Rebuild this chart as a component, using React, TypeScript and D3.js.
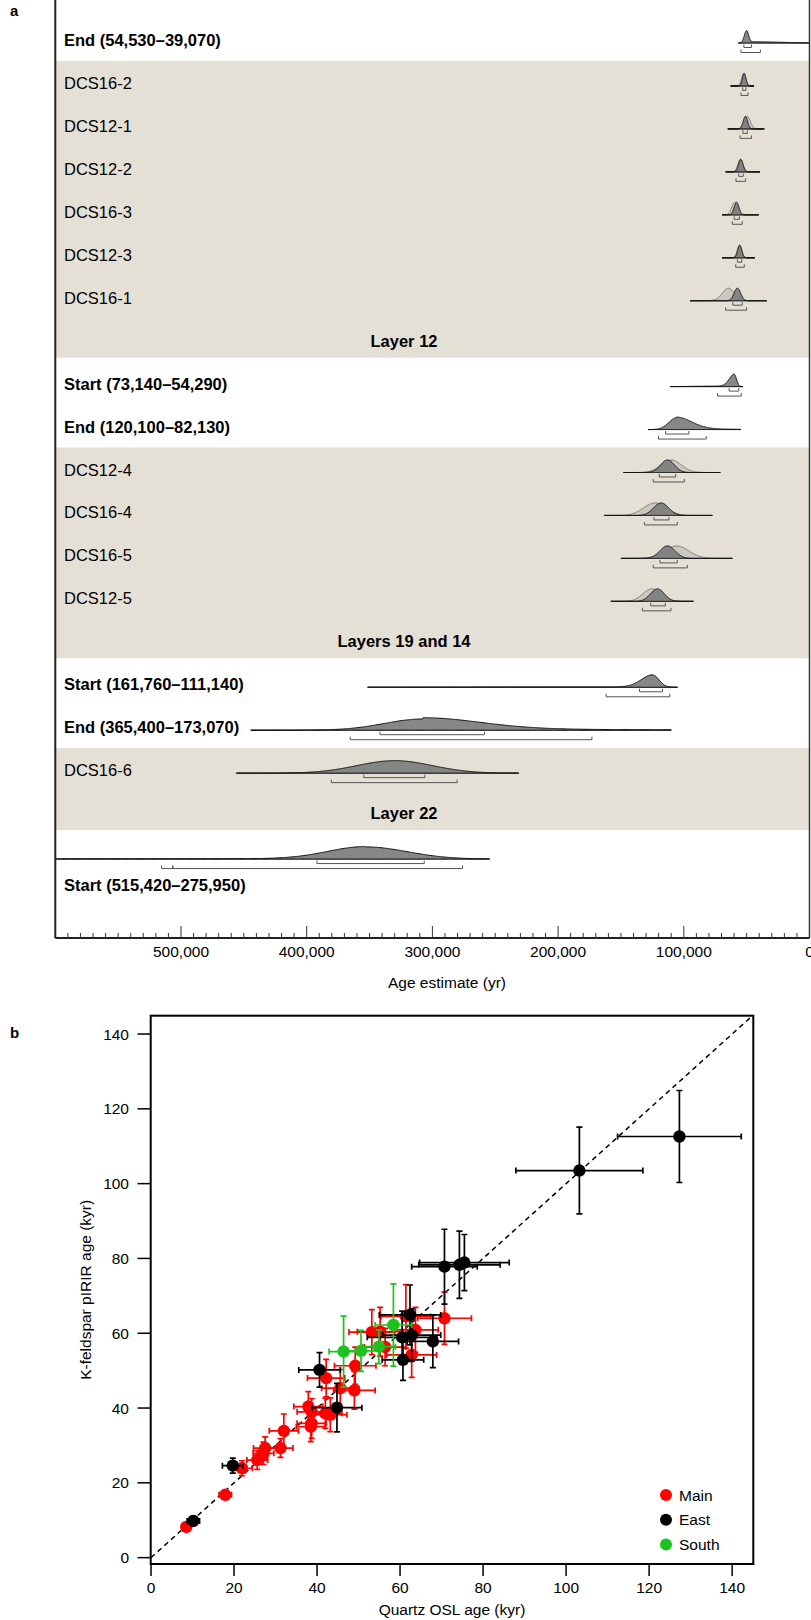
import React from 'react';
import * as d3 from 'd3';

const FONT = '"Liberation Sans", Arial, Helvetica, sans-serif';

// ---- panel a: Bayesian age model ----
const rowLabels = [
  'End (54,530–39,070)', 'DCS16-2', 'DCS12-1', 'DCS12-2', 'DCS16-3', 'DCS12-3', 'DCS16-1', 'Layer 12',
  'Start (73,140–54,290)', 'End (120,100–82,130)', 'DCS12-4', 'DCS16-4', 'DCS16-5', 'DCS12-5', 'Layers 19 and 14',
  'Start (161,760–111,140)', 'End (365,400–173,070)', 'DCS16-6', 'Layer 22', 'Start (515,420–275,950)',
];
const rowKinds = [
  'boundary', 'sample', 'sample', 'sample', 'sample', 'sample', 'sample', 'layer',
  'boundary', 'boundary', 'sample', 'sample', 'sample', 'sample', 'layer',
  'boundary', 'boundary', 'sample', 'layer', 'boundary',
];
// shaded groups of rows [first, last]
const bandRows = [[1, 7], [10, 14], [17, 18]];

// [mode, sdOlder, sdYounger, tailAmp, tailSdOlder, tailSdYounger] in years
const posterior = [
  [50000, 1800, 1500, 0.12, 2000, 25000],
  [52000, 1400, 1400, 0, 0, 0],
  [51000, 1800, 1700, 0, 0, 0],
  [54700, 1800, 1800, 0, 0, 0],
  [58000, 1900, 1900, 0, 0, 0],
  [55500, 1600, 1600, 0, 0, 0],
  [57400, 2600, 2600, 0, 0, 0],
  null,
  [59800, 4000, 1800, 0.05, 25000, 0],
  [106000, 6000, 12000, 0.08, 0, 30000],
  [113000, 5500, 5500, 0, 0, 0],
  [118000, 6000, 6000, 0, 0, 0],
  [113000, 6000, 6000, 0, 0, 0],
  [121000, 5500, 5500, 0, 0, 0],
  null,
  [124700, 9000, 5000, 0.03, 150000, 0],
  [308000, 30000, 45000, 0.12, 0, 120000],
  [330000, 30000, 30000, 0, 0, 0],
  null,
  [353000, 30000, 33000, 0.03, 200000, 0],
];
const prior = [
  null,
  [52300, 1700, 1700, 0, 0, 0],
  [49500, 2400, 2400, 0, 0, 0],
  [54900, 2000, 2000, 0, 0, 0],
  [59500, 2300, 2300, 0, 0, 0],
  [55700, 1800, 1800, 0, 0, 0],
  [64500, 4800, 4800, 0, 0, 0],
  null, null, null,
  [110000, 8000, 8000, 0, 0, 0],
  [123000, 9000, 9000, 0, 0, 0],
  [105500, 9500, 9500, 0, 0, 0],
  [125500, 7000, 7000, 0, 0, 0],
  null, null, null, null, null, null,
];
// extent of the baseline [older, younger]
const lineExtent = [
  [56500, 0], [62700, 44200], [65000, 36000], [66700, 39400], [69400, 40400], [69600, 43400], [95000, 34000], null,
  [111000, 53000], [128500, 54700], [148000, 71000], [163500, 77300], [150000, 61400], [158000, 92400], null,
  [351500, 105000], [444500, 110000], [456000, 231300], null, [600000, 254500],
];
const range68 = [
  [52200, 46200], [53100, 50600], [53000, 49400], [56300, 52700], [60000, 55800], [57400, 53900], [61000, 53500], null,
  [64000, 56200], [114500, 96000], [119500, 106500], [123700, 111800], [119000, 105200], [126300, 114700], null,
  [135200, 116900], [341700, 258500], [354600, 305900], null, [391900, 306500],
];
const range95 = [
  [[54530, 39070]], [[54500, 48900]], [[55200, 46200]], [[58500, 50800]], [[61400, 53500]], [[58700, 51900]], [[66700, 50000]], null,
  [[73140, 54290]], [[120100, 82130]], [[124300, 99600]], [[131400, 105200]], [[124300, 97200]], [[133000, 110200]], null,
  [[161760, 111140]], [[365400, 173070]], [[380400, 280300]], null, [[515420, 506500], [506500, 275950]],
];
const ageTicks = [500000, 400000, 300000, 200000, 100000, 0];

// ---- panel b: quartz OSL vs K-feldspar pIRIR, [x, xErr, y, yErr] in kyr ----
const mainPts = [
  [8.5, 1.0, 8.2, 0.8], [17.9, 1.5, 16.8, 1.2], [21.9, 2.5, 23.9, 2.0], [25.6, 2.5, 26.1, 2.5],
  [27.1, 2.5, 27.9, 3.0], [27.5, 2.8, 29.3, 3.0], [31.2, 3.0, 29.3, 2.5], [32.0, 3.5, 33.9, 4.5],
  [37.9, 3.5, 40.4, 4.0], [38.7, 3.5, 39.0, 3.5], [38.5, 3.5, 35.0, 4.0], [38.7, 3.5, 35.9, 4.0],
  [42.0, 4.0, 38.6, 4.0], [43.2, 4.0, 38.2, 4.5], [45.6, 4.5, 45.3, 5.0], [49.0, 5.0, 44.7, 5.0],
  [42.2, 4.5, 48.0, 5.0], [49.2, 5.0, 51.3, 5.0], [56.4, 5.0, 56.3, 5.0], [53.2, 5.5, 60.3, 6.0],
  [55.2, 5.5, 60.4, 6.5], [63.7, 5.5, 60.9, 6.0], [62.8, 6.0, 54.2, 6.0], [61.4, 6.0, 64.5, 8.5],
  [70.7, 6.5, 64.0, 7.0],
];
const eastPts = [
  [10.2, 1.5, 9.8, 1.2], [19.7, 2.5, 24.6, 2.0], [40.6, 5.0, 50.2, 4.6], [44.8, 6.0, 40.1, 6.5],
  [60.7, 5.0, 52.9, 5.5], [60.5, 8.4, 58.9, 7.0], [62.8, 7.0, 59.5, 7.0], [67.9, 6.2, 57.8, 7.0],
  [62.4, 7.4, 64.9, 8.0], [70.7, 7.9, 77.8, 10.0], [74.3, 9.8, 78.3, 9.0], [75.5, 10.8, 78.9, 7.5],
  [103.2, 15.3, 103.5, 11.6], [127.3, 14.9, 112.6, 12.3],
];
const southPts = [
  [46.4, 3.5, 55.1, 9.5], [50.6, 4.4, 55.3, 5.5], [54.9, 4.0, 56.4, 4.5], [58.4, 4.4, 62.2, 11.0],
];
const groups = ['Main', 'East', 'South'];
const groupColors = ['#ff0000', '#000000', '#1ec21e'];
const kyrTicks = [0, 20, 40, 60, 80, 100, 120, 140];

function dens(p: number[], age: number) {
  const dz = age - p[0];
  const sd = dz > 0 ? p[1] : p[2];
  const tsd = dz > 0 ? p[4] : p[5];
  let v = Math.exp(-0.5 * (dz / sd) ** 2);
  if (p[3] > 0 && tsd > 0) v += p[3] * Math.exp(-0.5 * (dz / tsd) ** 2);
  return v;
}

export default function App() {
  // panel a scales
  const x = d3.scaleLinear().domain([0, 600000]).range([809.5, 55.3]);
  const rowY = (i: number) => 40 + 42.95 * i;
  const axisY = 938;
  const peakH = 12.5;

  const distPath = (p: number[], ext: number[], base: number) => {
    const n = 400;
    const ages = d3.range(n + 1).map((i) => ext[1] + ((ext[0] - ext[1]) * i) / n);
    const vals = ages.map((a) => dens(p, a));
    const m = d3.max(vals) || 1;
    const area = d3.area<number>()
      .x((_, i) => x(ages[i]))
      .y0(base)
      .y1((v) => base - (peakH * v) / m);
    return area(vals) || '';
  };

  const bracket = (r: number[], y: number, key: string) => {
    const x0 = x(r[0]);
    const x1 = x(r[1]);
    return (
      <path key={key} d={`M${x0},${y - 3}V${y}H${x1}V${y - 3}`} fill="none" stroke="#555" strokeWidth={1} />
    );
  };

  // panel b scales
  const bx = d3.scaleLinear().domain([0, 145.1]).range([151, 753.3]);
  const by = d3.scaleLinear().domain([-1.7, 144.9]).range([1564, 1015.7]);
  const allPts = [mainPts, eastPts, southPts];
  const cap = 3;

  return (
    <svg width={811} height={1620} style={{ position: 'absolute', left: 0, top: 0, background: '#fff' }} fontFamily={FONT}>
      {/* ---------- panel a ---------- */}
      <text x={10} y={16} fontSize={15} fontWeight="bold">a</text>
      {bandRows.map(([a, b], i) => (
        <rect key={'band' + i} x={x(600000)} y={rowY(a) - 22} width={x(0) - x(600000)} height={rowY(b) + 17 - (rowY(a) - 22)} fill="#e5e0d6" />
      ))}
      {rowLabels.map((lab, i) => {
        const kind = rowKinds[i];
        if (kind === 'layer') {
          return (
            <text key={'lab' + i} x={404} y={rowY(i) + 6} fontSize={16.5} fontWeight="bold" textAnchor="middle">{lab}</text>
          );
        }
        const ly = i === rowLabels.length - 1 ? rowY(i) + 29 : rowY(i);
        return (
          <text key={'lab' + i} x={64} y={ly + 6} fontSize={16.5} fontWeight={kind === 'boundary' ? 'bold' : 'normal'}>{lab}</text>
        );
      })}
      {rowLabels.map((_, i) => {
        const ext = lineExtent[i];
        if (!ext) return null;
        const base = rowY(i) + 3;
        const pr = prior[i];
        const po = posterior[i];
        return (
          <g key={'dist' + i}>
            <line x1={x(ext[0])} x2={x(ext[1])} y1={base} y2={base} stroke="#444" strokeWidth={1} />
            {pr && <path d={distPath(pr, ext, base)} fill="#cdc8bf" stroke="#6e6e6e" strokeWidth={0.9} />}
            {po && <path d={distPath(po, ext, base)} fill="#7d7d7d" fillOpacity={0.92} stroke="#111" strokeWidth={1} />}
            {range68[i] && bracket(range68[i] as number[], base + 4.5, 'r68')}
            {(range95[i] || []).map((r, j) => bracket(r, base + 9.5, 'r95' + j))}
          </g>
        );
      })}
      {/* frame + axis */}
      <line x1={x(600000)} x2={x(600000)} y1={0} y2={axisY} stroke="#222" strokeWidth={2} />
      <line x1={x(0)} x2={x(0)} y1={0} y2={axisY} stroke="#333" strokeWidth={1.5} />
      <line x1={x(600000)} x2={x(0)} y1={axisY} y2={axisY} stroke="#222" strokeWidth={2} />
      {d3.range(0, 600000, 10000).map((t) => (
        <line key={'mt' + t} x1={x(t)} x2={x(t)} y1={axisY} y2={axisY - (t % 100000 === 0 ? 12 : 5)} stroke="#333" strokeWidth={1} />
      ))}
      {ageTicks.map((t) => (
        <text key={'at' + t} x={x(t)} y={957} fontSize={15.5} textAnchor="middle">{d3.format(',')(t)}</text>
      ))}
      <text x={447} y={988} fontSize={15.5} textAnchor="middle">Age estimate (yr)</text>

      {/* ---------- panel b ---------- */}
      <text x={10} y={1038} fontSize={15} fontWeight="bold">b</text>
      <line x1={bx(0)} y1={by(0)} x2={bx(144.9)} y2={by(144.9)} stroke="#000" strokeWidth={1.5} strokeDasharray="5,4" />
      {allPts.map((pts, g) => (
        <g key={'grp' + g} stroke={groupColors[g]} strokeWidth={1.7}>
          {pts.map(([px, pxe, py, pye], k) => {
            const cx = bx(px);
            const cy = by(py);
            const xl = bx(px - pxe);
            const xr = bx(px + pxe);
            const yt = by(py + pye);
            const yb = by(py - pye);
            return (
              <g key={k}>
                <path d={`M${xl},${cy}H${xr}M${xl},${cy - cap}V${cy + cap}M${xr},${cy - cap}V${cy + cap}`} fill="none" />
                <path d={`M${cx},${yt}V${yb}M${cx - cap},${yt}H${cx + cap}M${cx - cap},${yb}H${cx + cap}`} fill="none" />
              </g>
            );
          })}
          {pts.map(([px, , py], k) => (
            <circle key={'c' + k} cx={bx(px)} cy={by(py)} r={6.2} fill={groupColors[g]} stroke="none" />
          ))}
        </g>
      ))}
      <rect x={150.7} y={1015.7} width={602.6} height={548.3} fill="none" stroke="#000" strokeWidth={2} />
      {kyrTicks.map((t) => (
        <g key={'xt' + t}>
          <line x1={bx(t)} x2={bx(t)} y1={1564} y2={1576} stroke="#000" strokeWidth={1.5} />
          <text x={bx(t)} y={1593} fontSize={15.5} textAnchor="middle">{t}</text>
        </g>
      ))}
      {kyrTicks.map((t) => (
        <g key={'yt' + t}>
          <line x1={137.5} x2={150.7} y1={by(t)} y2={by(t)} stroke="#000" strokeWidth={1.5} />
          <text x={129} y={by(t) + 5.5} fontSize={15.5} textAnchor="end">{t}</text>
        </g>
      ))}
      <text x={452} y={1615} fontSize={15.5} textAnchor="middle">Quartz OSL age (kyr)</text>
      <text transform={`translate(91,${(1015.7 + 1564) / 2}) rotate(-90)`} fontSize={15.5} textAnchor="middle">K-feldspar pIRIR age (kyr)</text>
      {groups.map((gname, g) => (
        <g key={'leg' + g}>
          <circle cx={666} cy={1495 + 24.7 * g} r={6} fill={groupColors[g]} />
          <text x={679} y={1495 + 24.7 * g + 5.5} fontSize={15.5}>{gname}</text>
        </g>
      ))}
    </svg>
  );
}
